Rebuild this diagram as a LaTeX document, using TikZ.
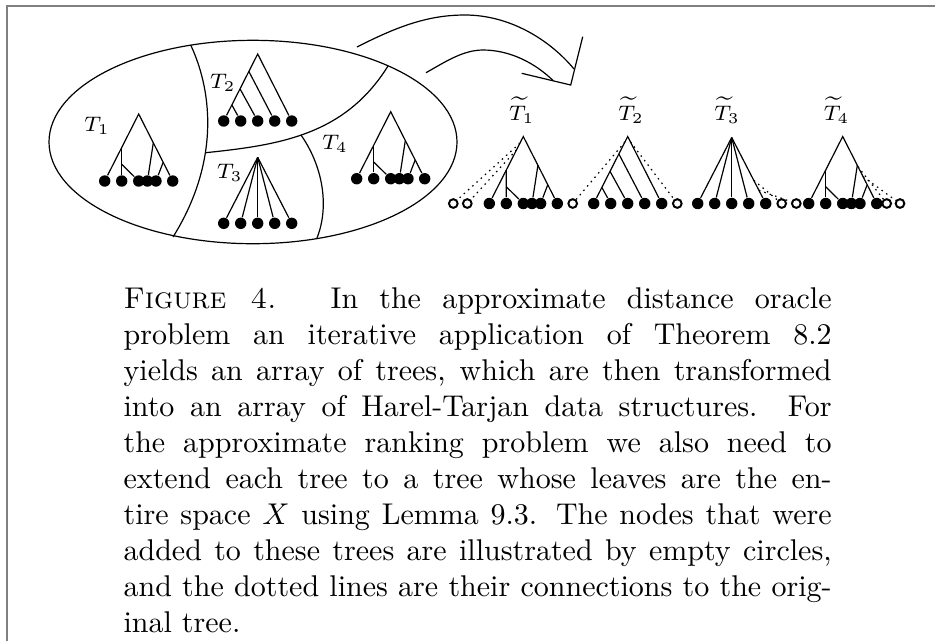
\documentclass[tikz,border=0pt]{standalone}
\usetikzlibrary{calc}
\tikzset{
  leaf/.style={circle, fill, inner sep=0pt, minimum size=3.8pt},
  newleaf/.style={circle, draw, line width=0.65pt, inner sep=0pt, minimum size=2.9pt},
  added/.style={dash pattern=on 0.5pt off 1.4pt},
  lbl/.style={font=\scriptsize, inner sep=0pt}
}
\begin{document}
\begin{tikzpicture}[x=0.3333pt, y=-0.3333pt]
    \useasboundingbox (0,0) rectangle (935,641);
    % page frame
    \draw[gray, line width=0.7pt] (7,641) |- (935,6);

    % the space and its parts
    \draw (253,142) ellipse [x radius=204, y radius=101.7];
    \draw (190.7,45) .. controls (214,95) and (218,165) .. (173,237) coordinate[pos=0.6] (cutAB);
    \draw (cutAB) .. controls (280,145) and (345,135) .. (388,66) coordinate[pos=0.46] (cutBC);
    \draw (cutBC) .. controls (322,165) and (330,205) .. (317,238);
    \node[lbl] (T1-lbl) at (97,126) {$T_1$};
    \node[lbl] (T2-lbl) at (222.7,83) {$T_2$};
    \node[lbl] (T3-lbl) at (229.7,173) {$T_3$};
    \node[lbl] (T4-lbl) at (335,144) {$T_4$};

    % big arrow
    \draw (357,47) .. controls (400,25) and (430,15) .. (465,15)
        .. controls (510,15) and (550,40) .. (574,69);
    \draw (426,72.7) .. controls (445,62) and (463,50) .. (483,50)
        .. controls (510,50) and (535,63) .. (553.3,80.7);
    \draw (521.7,73.3) -- (570.7,85) -- (582.7,36.7);

    % trees with a branch on each side
    \foreach \nm/\ax/\ay in {T1/138.7/114, T4/390.7/111.7, S1/523.3/136.5, S4/842.7/136.5} {
        \coordinate (\nm-r) at (\ax,\ay);
        \foreach \i/\dx in {1/-34, 2/-17, 3/0, 4/8.7, 5/17.3, 6/34}
            \node[leaf] (\nm-\i) at (\ax+\dx,\ay+67) {};
        \draw (\nm-1) -- (\nm-r) -- (\nm-6);
        \coordinate (\nm-a) at ($(\nm-r)!0.5!(\nm-1)$);
        \coordinate (\nm-b) at ($(\nm-a)!0.5!(\nm-2)$);
        \coordinate (\nm-c) at ($(\nm-r)!0.43!(\nm-6)$);
        \coordinate (\nm-d) at ($(\nm-r)!0.72!(\nm-6)$);
        \draw (\nm-a) -- (\nm-2);
        \draw (\nm-b) -- (\nm-3);
        \draw (\nm-c) -- (\nm-4);
        \draw (\nm-d) -- (\nm-5);
    }

    % caterpillar trees
    \foreach \nm/\ax/\ay in {T2/257.7/54, S2/627.7/136.5} {
        \coordinate (\nm-r) at (\ax,\ay);
        \foreach \i/\dx in {1/-34, 2/-17, 3/0, 4/17, 5/34}
            \node[leaf] (\nm-\i) at (\ax+\dx,\ay+67) {};
        \draw (\nm-1) -- (\nm-r) -- (\nm-5);
        \draw ($(\nm-r)!0.26!(\nm-1)$) -- (\nm-4);
        \draw ($(\nm-r)!0.52!(\nm-1)$) -- (\nm-3);
        \draw ($(\nm-r)!0.76!(\nm-1)$) -- (\nm-2);
    }

    % star trees
    \foreach \nm/\ax/\ay in {T3/257.7/157.3, S3/731.7/137.5} {
        \coordinate (\nm-r) at (\ax,\ay);
        \foreach \i/\dx in {1/-34, 2/-17, 3/0, 4/17, 5/34} {
            \node[leaf] (\nm-\i) at (\ax+\dx,\ay+66) {};
            \draw (\nm-r) -- (\nm-\i);
        }
    }

    % extended trees
    \node[lbl] (S1-lbl) at (521.7,110) {$\widetilde{T}_1$};
    \node[lbl] (S2-lbl) at (631,110) {$\widetilde{T}_2$};
    \node[lbl] (S3-lbl) at (727,110) {$\widetilde{T}_3$};
    \node[lbl] (S4-lbl) at (836.5,110) {$\widetilde{T}_4$};
    \node[newleaf] (S1-n1) at (453.3,203.5) {};
    \node[newleaf] (S1-n2) at (467.3,203.5) {};
    \node[newleaf] (S2-n1) at (572.7,203.5) {};
    \node[newleaf] (S2-n2) at (677.3,203.5) {};
    \node[newleaf] (S3-n1) at (781.7,203.5) {};
    \node[newleaf] (S3-n2) at (796.3,203.5) {};
    \node[newleaf] (S4-n1) at (886.7,203.5) {};
    \node[newleaf] (S4-n2) at (900,203.5) {};
    \draw[added] ($(S1-r)!0.1!(S1-1)$) -- (S1-n1);
    \draw[added] ($(S1-r)!0.2!(S1-1)$) -- (S1-n2);
    \draw[added] ($(S2-r)!0.08!(S2-1)$) -- (S2-n1);
    \draw[added] ($(S2-r)!0.08!(S2-5)$) -- (S2-n2);
    \draw[added] ($(S3-r)!0.65!(S3-5)$) -- (S3-n1);
    \draw[added] ($(S3-r)!0.8!(S3-5)$) -- (S3-n2);
    \draw[added] ($(S4-r)!0.45!(S4-6)$) -- (S4-n1);
    \draw[added] ($(S4-r)!0.6!(S4-6)$) -- (S4-n2);

    % caption
    \node[anchor=base west, text width=236pt, align=justify, inner sep=0pt] (caption) at (123,308)
        {\textsc{Figure 4.}\hspace{1.8em}In the approximate distance oracle\linebreak
        problem an iterative application of Theorem 8.2\linebreak
        yields an array of trees, which are then transformed\linebreak
        into an array of Harel-Tarjan data structures. For\linebreak
        the approximate ranking problem we also need to\linebreak
        extend each tree to a tree whose leaves are the en-\linebreak
        tire space $X$ using Lemma 9.3. The nodes that were\linebreak
        added to these trees are illustrated by empty circles,\linebreak
        and the dotted lines are their connections to the orig-\linebreak
        inal tree.};
\end{tikzpicture}
\end{document}
